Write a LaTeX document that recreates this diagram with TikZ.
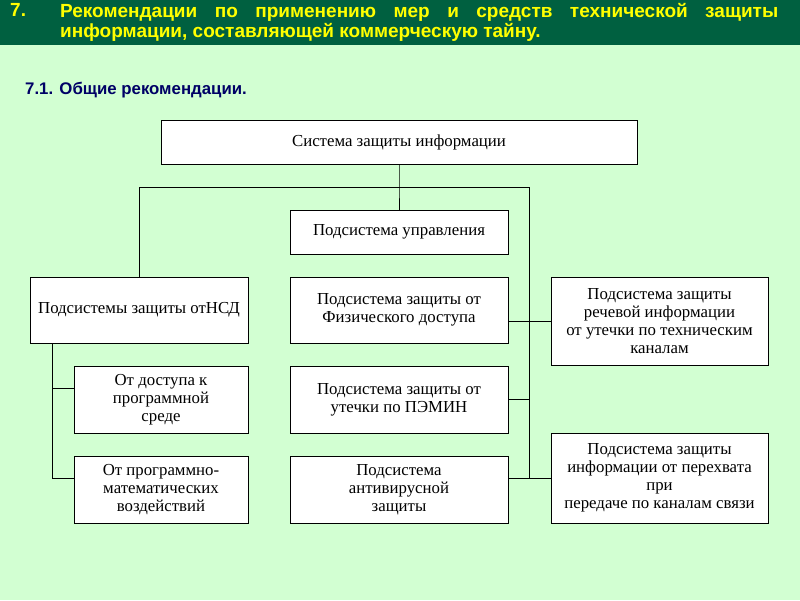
\documentclass[tikz,border=0pt]{standalone}
\usepackage{fontspec}
\setmainfont{Liberation Serif}
\newfontfamily\arialf{Liberation Sans}
\definecolor{bg}{HTML}{D2FFD2}
\definecolor{bar}{HTML}{006040}
\definecolor{ttl}{HTML}{FFFF00}
\definecolor{navy}{HTML}{000066}
\begin{document}
\begin{tikzpicture}[x=1pt,y=-1pt,
  bx/.style={draw=black,fill=white,line width=0.8pt,align=center,inner sep=1pt,font=\fontsize{16.8}{18}\selectfont},
  ln/.style={draw=black,line width=0.8pt}]
\fill[bg] (0,0) rectangle (800,600);
\useasboundingbox (0,0) rectangle (800,600);
\fill[bar] (0,0) rectangle (800,45);
\node[anchor=north west,inner sep=0,text=ttl,font=\arialf\bfseries\fontsize{19}{20}\selectfont] at (10,3) {7.};
\node[anchor=north west,inner sep=0,text=ttl,font=\arialf\bfseries\fontsize{19}{20}\selectfont,text width=718pt,align=justify] at (60,3) {Рекомендации по применению мер и средств технической защиты\linebreak информации, составляющей коммерческую тайну.};
\node[anchor=west,inner sep=0,text=navy,font=\arialf\bfseries\fontsize{16.8}{18}\selectfont] (sub) at (25,90) {7.1. Общие рекомендации.};

\node[bx,minimum width=476pt,minimum height=44pt] (top) at (399,142) {Система защиты информации};
\node[bx,minimum width=218pt,minimum height=44pt] (mg) at (399,232) {Подсистема управления};
\node[bx,minimum width=218pt,minimum height=66pt] (nsd) at (139,310) {Подсистемы защиты отНСД};
\node[bx,minimum width=218pt,minimum height=66pt] (ph) at (399,310) {Подсистема защиты от\\Физического доступа};
\node[bx,minimum width=217pt,minimum height=88pt] (sp) at (659.5,321) {Подсистема защиты\\речевой информации\\от утечки по техническим\\каналам};
\node[bx,minimum width=174pt,minimum height=67pt] (ac) at (161,399.5) {От доступа к\\программной\\среде};
\node[bx,minimum width=218pt,minimum height=67pt] (pe) at (399,399.5) {Подсистема защиты от\\утечки по ПЭМИН};
\node[bx,minimum width=174pt,minimum height=67pt] (pr) at (161,489.5) {От программно-\\математических\\воздействий};
\node[bx,minimum width=218pt,minimum height=67pt] (av) at (399,489.5) {Подсистема\\антивирусной\\защиты};
\node[bx,minimum width=217pt,minimum height=90pt] (tr) at (659.5,478) {Подсистема защиты\\информации от перехвата\\при\\передаче по каналам связи};

\coordinate (j) at (399,187);
\coordinate (jl) at (139,187);
\coordinate (jr) at (529,187);
\coordinate (jb) at (529,478);
\draw[ln] (top.south) -- (j) -- (mg.north);
\draw[ln] (nsd.north) -- (jl) -- (jr) -- (jb);
\draw[ln] (ph.east |- sp.west) -- (sp.west);
\draw[ln] (pe.east) -- (pe.east -| jr);
\draw[ln] (av.east |- tr.west) -- (tr.west);
\coordinate (l1) at (52,343);
\draw[ln] (l1) -- (52,478) -- (ac.west |- 52,478);
\draw[ln] (52,388) -- (ac.west |- 52,388);
\end{tikzpicture}
\end{document}
